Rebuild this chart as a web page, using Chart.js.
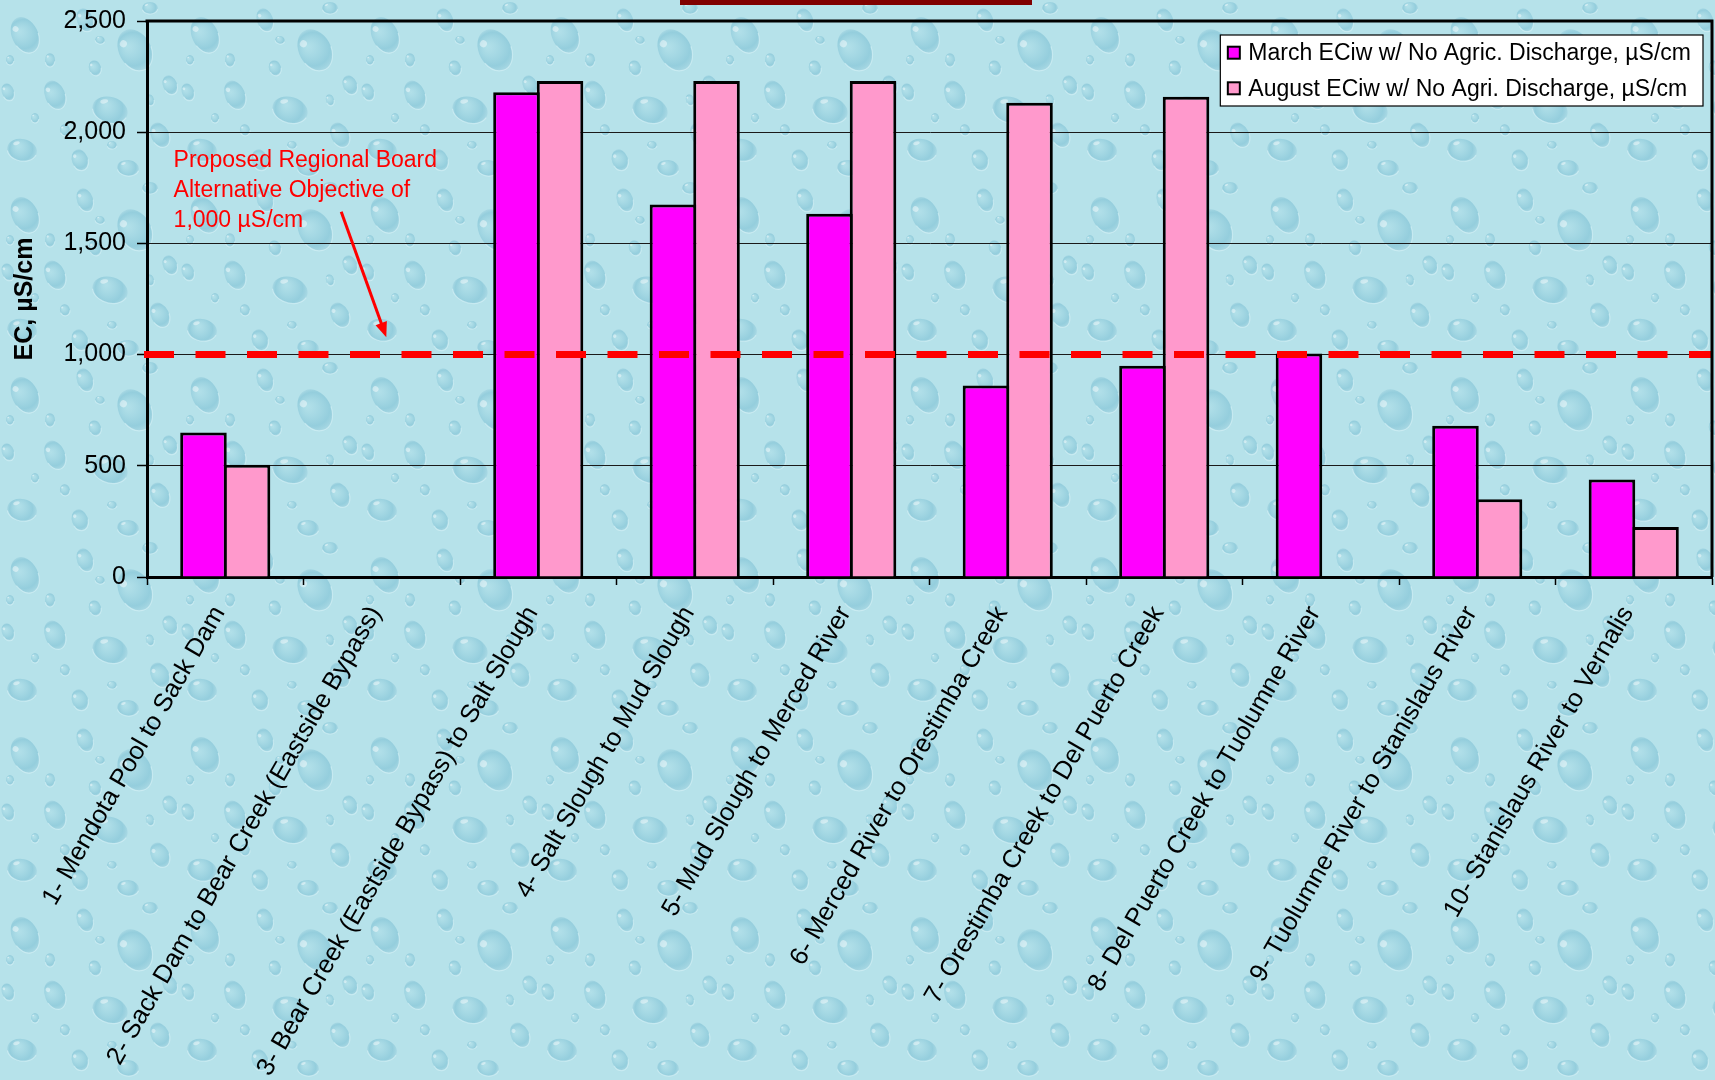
<!DOCTYPE html>
<html>
<head>
<meta charset="utf-8">
<script src="https://cdn.jsdelivr.net/npm/chart.js@4.4.1/dist/chart.umd.min.js"></script>
<style>
  html, body { margin: 0; padding: 0; background: #B4E2EA; overflow: hidden; }
  #wrap { position: relative; width: 1715px; height: 1080px; }
  canvas { display: block; }
</style>
</head>
<body>
<div id="wrap"><canvas id="chart" width="1715" height="1080"></canvas></div>
<script>
// River reaches along the San Joaquin, upstream to downstream
const reaches = [
  '1- Mendota Pool to Sack Dam',
  '2- Sack Dam to Bear Creek (Eastside Bypass)',
  '3- Bear Creek (Eastside Bypass) to Salt Slough',
  '4- Salt Slough to Mud Slough',
  '5- Mud Slough to Merced River',
  '6- Merced River to Orestimba Creek',
  '7- Orestimba Creek to Del Puerto Creek',
  '8- Del Puerto Creek to Tuolumne River',
  '9- Tuolumne River to Stanislaus River',
  '10- Stanislaus River to Vernalis'
];

// Irrigation-water EC with no agricultural discharge, µS/cm
const marchEC  = [650, null, 2180, 1675, 1633, 861, 950, 1005, 680, 438];
const augustEC = [505, null, 2230, 2230, 2230, 2132, 2159, null, 350, 225];

const seriesNames = [
  'March ECiw w/ No Agric. Discharge, µS/cm',
  'August ECiw w/ No Agri. Discharge, µS/cm'
];
const seriesColors = ['#FF00FF', '#FF99CC'];

const yTicks = [0, 500, 1000, 1500, 2000, 2500];
const yTitle = 'EC, µS/cm';

// Proposed objective line and its note
const objectiveEC = 1000;
const objectiveNote = ['Proposed Regional Board', 'Alternative Objective of', '1,000 µS/cm'];

const FONT = '"Liberation Sans", Arial, Helvetica, sans-serif';

// ---- water-drop backdrop tile ----
function makeDropTile() {
  const t = document.createElement('canvas');
  t.width = 180; t.height = 180;
  const g = t.getContext('2d');
  g.fillStyle = '#B6E2EA';
  g.fillRect(0, 0, 180, 180);
  const drops = [
    [25, 35, 13, 19, -0.45], [85, 20, 8, 12, -0.35], [135, 50, 16, 22, -0.5],
    [55, 95, 10, 15, -0.4], [110, 110, 18, 13, 0.3], [160, 135, 9, 13, -0.45],
    [22, 150, 15, 11, 0.2], [80, 160, 8, 11, -0.35], [128, 168, 11, 8, 0.1],
    [170, 85, 7, 10, -0.4], [50, 60, 5, 7, 0], [95, 68, 6, 8, -0.3],
    [8, 92, 6, 9, -0.35], [150, 8, 8, 6, 0], [65, 130, 5, 6, -0.2], [112, 145, 5, 4, 0],
    [35, 118, 4, 5, 0], [150, 100, 4, 6, -0.3], [100, 40, 5, 4, 0.2], [10, 60, 4, 5, 0]
  ];
  drops.forEach(([x, y, rx, ry, rot]) => {
    for (let dx = -180; dx <= 180; dx += 180) {
      for (let dy = -180; dy <= 180; dy += 180) {
        const cx = x + dx, cy = y + dy;
        if (cx + rx * 2 < 0 || cx - rx * 2 > 180 || cy + ry * 2 < 0 || cy - ry * 2 > 180) continue;
        g.save();
        g.translate(cx, cy);
        g.rotate(rot);
        const grad = g.createRadialGradient(-rx * 0.3, -ry * 0.3, 1, 0, 0, Math.max(rx, ry));
        grad.addColorStop(0, 'rgba(160,215,228,0.25)');
        grad.addColorStop(0.75, 'rgba(85,168,196,0.35)');
        grad.addColorStop(1, 'rgba(75,155,188,0.12)');
        g.fillStyle = grad;
        g.beginPath();
        g.ellipse(0, 0, rx, ry, 0, 0, Math.PI * 2);
        g.fill();
        g.fillStyle = 'rgba(255,255,255,0.45)';
        g.beginPath();
        g.ellipse(-rx * 0.45, -ry * 0.5, rx * 0.22, ry * 0.16, -0.5, 0, Math.PI * 2);
        g.fill();
        g.strokeStyle = 'rgba(225,248,252,0.5)';
        g.lineWidth = 1.2;
        g.beginPath();
        g.ellipse(0, 0, rx, ry, 0, 0.2, Math.PI * 0.9);
        g.stroke();
        g.restore();
      }
    }
  });
  return t;
}
const dropTile = makeDropTile();

const backdropPlugin = {
  id: 'backdrop',
  beforeDraw(chart) {
    const ctx = chart.ctx;
    ctx.save();
    ctx.fillStyle = ctx.createPattern(dropTile, 'repeat');
    ctx.fillRect(0, 0, chart.width, chart.height);
    // lower edge of the slide's title banner
    ctx.fillStyle = '#800000';
    ctx.fillRect(680, 0, 352, 5);
    ctx.restore();
  }
};

const framePlugin = {
  id: 'frame',
  afterDatasetsDraw(chart) {
    const { ctx, chartArea: a } = chart;
    ctx.save();
    ctx.strokeStyle = '#000';
    ctx.lineWidth = 3;
    ctx.beginPath();
    ctx.moveTo(a.left - 1.5, a.top);
    ctx.lineTo(a.right, a.top);
    ctx.lineTo(a.right, a.bottom);
    ctx.stroke();
    ctx.restore();
  }
};

const objectivePlugin = {
  id: 'objective',
  afterDatasetsDraw(chart) {
    const { ctx, chartArea: a, scales: { x, y } } = chart;
    ctx.save();
    // dashed objective line
    const yy = y.getPixelForValue(objectiveEC);
    ctx.strokeStyle = '#FF0000';
    ctx.lineWidth = 7;
    ctx.lineCap = 'butt';
    ctx.setLineDash([30, 21.5]);
    ctx.beginPath();
    ctx.moveTo(a.left - 3, yy);
    ctx.lineTo(a.right, yy);
    ctx.stroke();
    ctx.setLineDash([]);

    // note text
    ctx.fillStyle = '#FF0000';
    ctx.font = '23px ' + FONT;
    ctx.textAlign = 'left';
    ctx.textBaseline = 'alphabetic';
    const tx = x.getPixelForValue(-0.33);
    const ty = y.getPixelForValue(1845);
    objectiveNote.forEach((line, i) => ctx.fillText(line, tx, ty + i * 30));

    // pointer arrow
    const x0 = x.getPixelForValue(0.741), y0 = y.getPixelForValue(1642);
    const x1 = x.getPixelForValue(1.029), y1 = y.getPixelForValue(1078);
    const ang = Math.atan2(y1 - y0, x1 - x0);
    const head = 15, half = 6;
    ctx.strokeStyle = '#FF0000';
    ctx.lineWidth = 3;
    ctx.beginPath();
    ctx.moveTo(x0, y0);
    ctx.lineTo(x1 - Math.cos(ang) * (head - 2), y1 - Math.sin(ang) * (head - 2));
    ctx.stroke();
    ctx.beginPath();
    ctx.moveTo(x1, y1);
    ctx.lineTo(x1 - Math.cos(ang) * head + Math.sin(ang) * half, y1 - Math.sin(ang) * head - Math.cos(ang) * half);
    ctx.lineTo(x1 - Math.cos(ang) * head - Math.sin(ang) * half, y1 - Math.sin(ang) * head + Math.cos(ang) * half);
    ctx.closePath();
    ctx.fill();
    ctx.restore();
  }
};

const legendBoxPlugin = {
  id: 'legendBox',
  afterDraw(chart) {
    const { ctx, chartArea: a } = chart;
    const sets = chart.data.datasets;
    ctx.save();
    ctx.font = '23px ' + FONT;
    const maxW = Math.max(...sets.map(d => ctx.measureText(d.label).width));
    const right = a.right - 9;
    const left = right - (28 + maxW + 12);
    const top = a.top + 14;
    const h = 71;
    ctx.fillStyle = '#FFFFFF';
    ctx.fillRect(left, top, right - left, h);
    ctx.strokeStyle = '#000';
    ctx.lineWidth = 1.2;
    ctx.strokeRect(left, top, right - left, h);
    ctx.textBaseline = 'middle';
    ctx.textAlign = 'left';
    sets.forEach((d, i) => {
      const cy = top + 17.7 + i * 35.6;
      ctx.fillStyle = d.backgroundColor;
      ctx.fillRect(left + 7.5, cy - 6, 12, 12);
      ctx.strokeStyle = '#000';
      ctx.lineWidth = 2;
      ctx.strokeRect(left + 7.5, cy - 6, 12, 12);
      ctx.fillStyle = '#000';
      ctx.fillText(d.label, left + 28, cy + 1);
    });
    ctx.restore();
  }
};

const barStyle = {
  borderColor: '#000000',
  borderWidth: 3,
  categoryPercentage: 0.5566,
  barPercentage: 1.069
};

new Chart(document.getElementById('chart'), {
  type: 'bar',
  data: {
    labels: reaches,
    datasets: [
      Object.assign({ label: seriesNames[0], data: marchEC, backgroundColor: seriesColors[0] }, barStyle),
      Object.assign({ label: seriesNames[1], data: augustEC, backgroundColor: seriesColors[1] }, barStyle)
    ]
  },
  options: {
    responsive: false,
    animation: false,
    devicePixelRatio: 1,
    layout: { padding: { top: 21, right: 3, left: 0, bottom: 0 } },
    plugins: {
      legend: { display: false },
      tooltip: { enabled: false }
    },
    scales: {
      x: {
        ticks: {
          color: '#000',
          font: { family: FONT, size: 25.5 },
          minRotation: 60,
          maxRotation: 60,
          autoSkip: false,
          padding: 16,
          labelOffset: -6
        },
        grid: {
          display: true,
          drawOnChartArea: false,
          drawTicks: true,
          tickLength: 8,
          tickColor: '#000',
          tickWidth: 1.5,
          offset: true
        },
        border: { color: '#000', width: 3 },
        afterFit(s) { s.height = 503; }
      },
      y: {
        min: 0,
        max: 2500,
        afterBuildTicks(s) { s.ticks = yTicks.map(v => ({ value: v })); },
        ticks: {
          color: '#000',
          font: { family: FONT, size: 25 },
          padding: 11,
          callback: v => Number(v).toLocaleString('en-US')
        },
        grid: {
          color: '#1a1a1a',
          lineWidth: 1,
          drawTicks: true,
          tickLength: 10,
          tickColor: '#000',
          tickWidth: 1.5
        },
        border: { color: '#000', width: 3 },
        title: {
          display: true,
          text: yTitle,
          color: '#000',
          font: { family: FONT, size: 25, weight: 'bold' },
          padding: { top: 10, bottom: 0 }
        },
        afterFit(s) {
          s.width = 147;
          s.paddingTop = 0;
          s.paddingBottom = 0;
        }
      }
    }
  },
  plugins: [backdropPlugin, objectivePlugin, framePlugin, legendBoxPlugin]
});
</script>
</body>
</html>
